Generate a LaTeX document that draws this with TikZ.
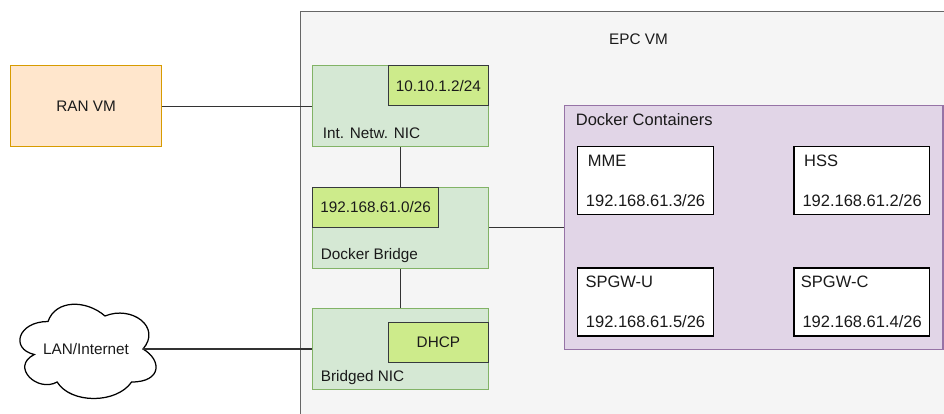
\documentclass[tikz,border=0pt]{standalone}
\usepackage{fontspec}
\setmainfont{Liberation Sans}
\definecolor{vmfill}{HTML}{F5F5F5}
\definecolor{vmline}{HTML}{666666}
\definecolor{nicfill}{HTML}{D5E8D4}
\definecolor{nicline}{HTML}{82B366}
\definecolor{addrfill}{HTML}{CDEB8B}
\definecolor{addrline}{HTML}{36393D}
\definecolor{ranfill}{HTML}{FFE6CC}
\definecolor{ranline}{HTML}{D79B00}
\definecolor{dockfill}{HTML}{E1D5E7}
\definecolor{dockline}{HTML}{9673A6}
\definecolor{ink}{HTML}{1A1A1A}
\definecolor{wire}{HTML}{333333}
\newcommand{\fsA}{\fontsize{15.3pt}{18pt}\selectfont}
\newcommand{\fsB}{\fontsize{16.5pt}{19pt}\selectfont}
\tikzset{
  box/.style={line width=1.25pt, inner sep=0pt, anchor=north west},
  nicbox/.style={box, draw=nicline, fill=nicfill, minimum width=176pt, minimum height=81pt},
  addrbox/.style={box, draw=addrline, fill=addrfill, text=ink, font=\fsA},
  ctrbox/.style={box, draw=black, fill=white, minimum width=136pt, minimum height=68pt},
  txt/.style={inner sep=0pt, anchor=base west, text=ink, font=\fsA},
  ctxt/.style={inner sep=0pt, anchor=base west, text=ink, font=\fsB},
  link/.style={draw=wire, line width=1.25pt},
}
\begin{document}
\begin{tikzpicture}[x=1pt, y=-1pt]
\useasboundingbox (0,0) rectangle (944,413);

% EPC VM frame, running off the right and bottom edges
\begin{scope}
  \clip (0,0) rectangle (944,413);
  \node[box, draw=vmline, fill=vmfill, minimum width=660pt, minimum height=420pt] (epc) at (300,10.5) {};
\end{scope}
\node[txt] (epclabel) at (609,44) {EPC VM};

% RAN VM
\node[box, draw=ranline, fill=ranfill, minimum width=151pt, minimum height=81pt, text=ink, font=\fsA] (ran) at (10,65) {RAN VM};

% LAN/Internet cloud
\begin{scope}[shift={(10,294)}, x=152pt, y=-110pt]
  \draw[line width=1.25pt, draw=black, fill=white]
    (0.25,0.25) .. controls (0.05,0.25) and (0,0.5) .. (0.16,0.55)
    .. controls (0,0.66) and (0.18,0.9) .. (0.31,0.8)
    .. controls (0.4,1) and (0.7,1) .. (0.8,0.8)
    .. controls (1,0.8) and (1,0.6) .. (0.875,0.5)
    .. controls (1,0.3) and (0.8,0.1) .. (0.625,0.2)
    .. controls (0.5,0.05) and (0.3,0.05) .. (0.25,0.25) -- cycle;
\end{scope}
\node[inner sep=0pt, text=ink, font=\fsA] (cloud) at (86,349) {LAN/Internet};
\coordinate (cloudport) at (143,349);

% network interfaces and bridge
\node[nicbox] (intnic) at (312,65) {};
\node[addrbox, minimum width=100.5pt, minimum height=40pt] (intaddr) at (387.5,65) {10.10.1.2/24};
\node[txt] (intlabel) at (322.7,138.2) {Int. Netw. NIC};

\node[nicbox] (bridge) at (312,186.5) {};
\node[addrbox, minimum width=126pt, minimum height=40.5pt] (bridgeaddr) at (312,186.5) {192.168.61.0/26};
\node[txt] (bridgelabel) at (320.7,259.8) {Docker Bridge};

\node[nicbox] (bnic) at (312,308) {};
\node[addrbox, minimum width=100.5pt, minimum height=40pt] (dhcp) at (387.5,322) {DHCP};
\node[txt] (bniclabel) at (320.7,381.5) {Bridged NIC};

% Docker containers
\node[box, draw=dockline, fill=dockfill, minimum width=378.8pt, minimum height=244.3pt] (dock) at (563.5,104.7) {};
\node[ctxt] (docklabel) at (575.7,125.3) {Docker Containers};

\node[ctrbox] (mme) at (576.7,145.7) {};
\node[ctxt] (mmename) at (587.7,166) {MME};
\node[ctxt] (mmeip) at (585.7,206) {192.168.61.3/26};

\node[ctrbox, minimum width=135.4pt] (hss) at (793.3,145.7) {};
\node[ctxt] (hssname) at (804,166) {HSS};
\node[ctxt] (hssip) at (802.3,206) {192.168.61.2/26};

\node[ctrbox] (spgwu) at (576.7,267.3) {};
\node[ctxt] (spgwuname) at (585.3,287.7) {SPGW-U};
\node[ctxt] (spgwuip) at (585.7,327) {192.168.61.5/26};

\node[ctrbox, minimum width=135.4pt] (spgwc) at (793.3,267.3) {};
\node[ctxt] (spgwcname) at (800.7,287.7) {SPGW-C};
\node[ctxt] (spgwcip) at (802.3,327) {192.168.61.4/26};

% links
\draw[link] (ran.east) -- (ran.east -| intnic.west);
\draw[link] (intnic.south) -- (bridge.north);
\draw[link] (bridge.south) -- (bnic.north);
\draw[link] (bridge.east) -- (bridge.east -| dock.west);
\draw[link] (cloudport) -- (cloudport -| bnic.west);
\end{tikzpicture}
\end{document}
